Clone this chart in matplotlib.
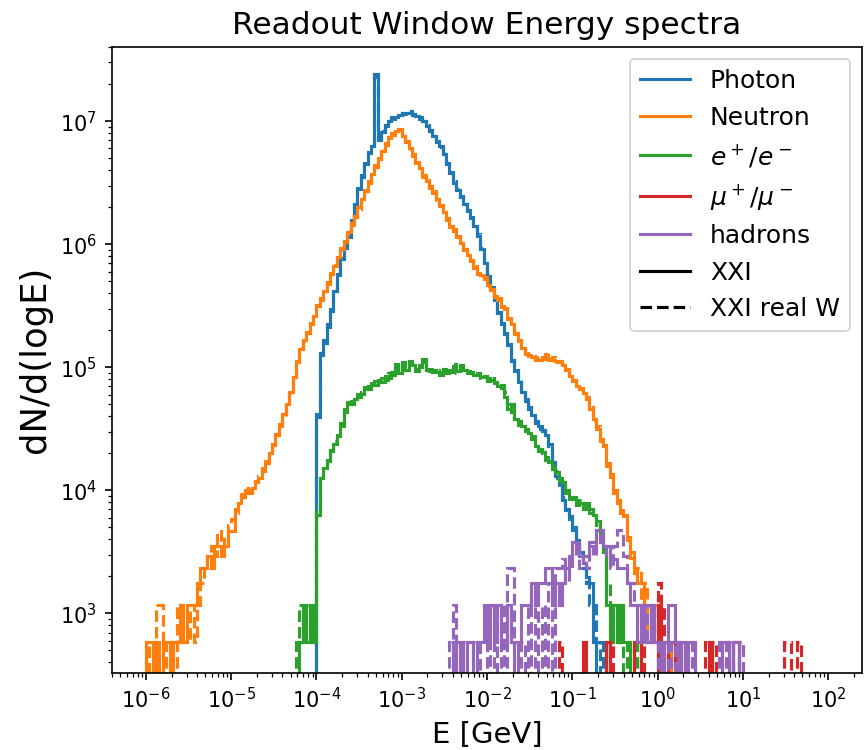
import numpy as np
import matplotlib
matplotlib.use("Agg")
import matplotlib.pyplot as plt
from matplotlib.lines import Line2D

# ---- binning: log10(E/GeV) from -6 to 2, 200 bins -------------------------
LOGE_MIN, LOGE_MAX, N_BINS = -6.0, 2.0, 200

# ---- data: log10(dN/dlogE) per consecutive bin, starting at a log10(E) edge --
# (0 means an empty bin)
photon_start = -4.0
photon_xxi = [4.62, 5.10, 5.22, 5.33, 5.47, 5.62, 5.76, 5.88, 5.97, 6.07,
              6.19, 6.33, 6.45, 6.55, 6.66, 6.74, 6.80, 7.38, 6.86, 6.91,
              6.96, 7.00, 7.02, 7.03, 7.05, 7.06, 7.07, 7.07, 7.06, 7.04,
              7.03, 7.00, 6.96, 6.92, 6.88, 6.84, 6.80, 6.73, 6.66, 6.58,
              6.50, 6.44, 6.39, 6.33, 6.28, 6.21, 6.15, 6.07, 5.96, 5.85,
              5.74, 5.65, 5.55, 5.44, 5.36, 5.28, 5.18, 5.05, 4.98, 4.88,
              4.80, 4.74, 4.68, 4.61, 4.56, 4.52, 4.48, 4.45, 4.38, 4.23,
              4.12, 4.05, 3.92, 3.84, 3.79, 3.70, 3.58, 3.50, 3.41, 3.30,
              3.25, 2.77, 0, 0, 0, 2.77]
photon_realw = [4.60, 5.12, 5.20, 5.35, 5.46, 5.63, 5.75, 5.89, 5.98, 6.06,
                6.20, 6.32, 6.46, 6.56, 6.65, 6.75, 6.81, 7.36, 6.85, 6.92,
                6.97, 7.00, 7.03, 7.04, 7.05, 7.07, 7.06, 7.08, 7.05, 7.04,
                7.02, 7.00, 6.97, 6.93, 6.88, 6.83, 6.79, 6.74, 6.65, 6.59,
                6.51, 6.45, 6.38, 6.34, 6.27, 6.22, 6.14, 6.08, 5.97, 5.84,
                5.75, 5.64, 5.56, 5.45, 5.35, 5.27, 5.19, 5.06, 4.97, 4.90,
                4.81, 4.73, 4.66, 4.62, 4.55, 4.50, 4.49, 4.43, 4.36, 4.25,
                4.10, 4.02, 3.95, 3.85, 3.77, 3.68, 3.60, 3.47, 3.37, 3.25,
                3.07, 3.07, 2.77, 0, 2.77, 0]

neutron_start = -6.0
neutron_xxi = [2.77, 2.77, 0, 2.77, 0, 2.77, 2.77, 0, 2.77, 2.77,
               3.07, 2.77, 3.07, 3.07, 3.07, 3.25, 3.37, 3.37, 3.47, 3.37,
               3.55, 3.55, 3.47, 3.55, 3.67, 3.67, 3.85, 3.90, 3.95, 4.00,
               3.98, 4.02, 4.08, 4.10, 4.18, 4.22, 4.30, 4.38, 4.45, 4.52,
               4.62, 4.70, 4.80, 4.92, 5.05, 5.15, 5.22, 5.28, 5.35, 5.42,
               5.50, 5.56, 5.62, 5.69, 5.76, 5.82, 5.90, 5.96, 6.02, 6.10,
               6.17, 6.22, 6.30, 6.37, 6.44, 6.50, 6.57, 6.63, 6.70, 6.76,
               6.82, 6.86, 6.89, 6.92, 6.93, 6.88, 6.83, 6.78, 6.72, 6.67,
               6.62, 6.56, 6.51, 6.47, 6.42, 6.37, 6.31, 6.26, 6.20, 6.15,
               6.11, 6.07, 6.01, 5.96, 5.91, 5.87, 5.81, 5.77, 5.75, 5.72,
               5.67, 5.63, 5.58, 5.55, 5.50, 5.47, 5.40, 5.35, 5.28, 5.22,
               5.16, 5.12, 5.10, 5.08, 5.07, 5.06, 5.08, 5.10, 5.07, 5.06,
               5.05, 5.04, 5.02, 4.98, 4.93, 4.89, 4.85, 4.82, 4.79, 4.76,
               4.66, 4.58, 4.50, 4.42, 4.36, 4.22, 4.11, 4.00, 3.90, 3.84,
               3.79, 3.60, 3.45, 3.37, 3.25, 3.25, 3.07, 3.07, 2.77, 3.07,
               2.77, 0, 2.77, 2.77, 0, 2.77, 0, 2.77]
neutron_realw = [2.77, 0, 2.77, 3.07, 3.07, 0, 2.77, 2.77, 0, 3.07,
                 3.07, 2.77, 2.77, 3.07, 2.77, 3.07, 3.25, 3.37, 3.47, 3.55,
                 3.47, 3.67, 3.55, 3.62, 3.72, 3.77, 3.82, 3.93, 3.97, 4.02,
                 4.00, 4.05, 4.07, 4.12, 4.16, 4.24, 4.31, 4.37, 4.46, 4.54,
                 4.60, 4.72, 4.79, 4.93, 5.04, 5.16, 5.21, 5.29, 5.36, 5.41,
                 5.51, 5.55, 5.63, 5.68, 5.77, 5.83, 5.89, 5.97, 6.03, 6.09,
                 6.16, 6.23, 6.29, 6.38, 6.43, 6.51, 6.56, 6.64, 6.69, 6.77,
                 6.81, 6.87, 6.90, 6.91, 6.94, 6.87, 6.84, 6.77, 6.73, 6.66,
                 6.63, 6.55, 6.52, 6.46, 6.43, 6.36, 6.32, 6.25, 6.21, 6.14,
                 6.12, 6.06, 6.02, 5.95, 5.92, 5.86, 5.82, 5.76, 5.74, 5.73,
                 5.66, 5.64, 5.57, 5.56, 5.49, 5.48, 5.39, 5.36, 5.27, 5.21,
                 5.15, 5.11, 5.09, 5.09, 5.06, 5.08, 5.07, 5.11, 5.06, 5.08,
                 5.04, 5.05, 5.01, 4.99, 4.92, 4.90, 4.84, 4.83, 4.77, 4.74,
                 4.68, 4.56, 4.52, 4.40, 4.37, 4.20, 4.13, 3.98, 3.92, 3.82,
                 3.80, 3.62, 3.50, 3.30, 3.37, 3.07, 3.25, 2.77, 3.07, 2.77,
                 3.07, 2.77, 0, 2.77, 2.77, 0, 2.77, 2.77]

electron_xxi_start = -4.2
electron_xxi = [2.77, 3.07, 2.77, 3.07, 2.77,
                3.80, 4.10, 4.18, 4.25, 4.32, 4.38, 4.45, 4.52, 4.66, 4.72,
                4.70, 4.74, 4.76, 4.78, 4.84, 4.82, 4.87, 4.86, 4.90, 4.88,
                4.93, 4.91, 4.96, 5.00, 4.95, 5.04, 4.98, 5.03, 5.02, 4.97,
                5.00, 5.07, 4.98, 4.97, 4.98, 4.96, 4.96, 4.99, 4.95, 4.98,
                5.01, 4.97, 5.02, 4.98, 4.97, 4.95, 4.94, 4.94, 4.92, 4.92,
                4.91, 4.90, 4.88, 4.85, 4.86, 4.76, 4.66, 4.70, 4.58, 4.56,
                4.52, 4.50, 4.47, 4.42, 4.36, 4.34, 4.31, 4.27, 4.23, 4.19,
                4.15, 4.10, 4.07, 3.98, 3.95, 3.93, 3.90, 3.90, 3.88, 3.90,
                3.85, 3.80, 3.75, 3.68, 3.50, 3.07, 2.77, 3.07, 2.77, 3.07,
                2.77, 2.77, 0, 2.77, 2.77]
electron_realw_start = -4.24
electron_realw = [2.77, 3.07, 2.77, 3.07, 2.77, 3.07,
                  3.85, 4.08, 4.20, 4.24, 4.33, 4.40, 4.44, 4.55, 4.64, 4.70,
                  4.73, 4.72, 4.78, 4.80, 4.82, 4.85, 4.84, 4.89, 4.87, 4.91,
                  4.90, 4.95, 4.94, 5.03, 4.97, 5.01, 5.00, 5.05, 4.99, 4.99,
                  5.02, 5.04, 4.96, 4.99, 4.96, 4.98, 4.94, 4.97, 4.97, 4.96,
                  5.03, 4.95, 5.00, 4.99, 4.95, 4.96, 4.93, 4.95, 4.91, 4.93,
                  4.89, 4.91, 4.87, 4.86, 4.83, 4.80, 4.70, 4.64, 4.60, 4.53,
                  4.54, 4.48, 4.45, 4.44, 4.38, 4.32, 4.30, 4.25, 4.24, 4.17,
                  4.16, 4.08, 4.05, 4.00, 3.93, 3.95, 3.88, 3.92, 3.85, 3.88,
                  3.82, 3.78, 3.72, 3.62, 3.55, 3.25, 3.07, 2.77, 3.07, 2.77,
                  0, 2.77, 2.77, 0, 2.77]

hadron_start = -2.48
hadron_xxi = [0, 0, 2.77, 0, 2.77, 0, 2.77, 2.77, 0, 2.77,
              2.77, 3.07, 2.77, 3.07, 2.77, 3.07, 2.77, 2.77, 3.07, 2.77,
              0, 2.77, 3.07, 3.07, 3.07, 3.25, 3.07, 3.25, 3.25, 3.37,
              3.37, 3.07, 3.25, 3.07, 3.25, 3.37, 3.47, 3.58, 3.58, 3.47,
              3.47, 3.47, 3.58, 3.58, 3.68, 3.68, 3.55, 3.55, 3.44, 3.44,
              3.37, 3.37, 3.37, 3.25, 3.07, 3.07, 2.77, 3.07, 2.77, 2.77,
              3.07, 2.77, 2.77, 0, 2.77, 3.07, 3.07, 2.77, 0, 2.77,
              0, 2.77, 2.77, 0, 0, 0, 0, 0, 0, 0,
              0, 2.77, 2.77, 0, 2.77, 2.77]
hadron_realw = [0, 2.77, 3.07, 2.77, 0, 2.77, 0, 0, 2.77, 2.77,
                0, 0, 3.07, 0, 2.77, 0, 3.07, 0, 3.37, 3.37,
                2.77, 0, 2.77, 0, 3.07, 0, 3.25, 0, 3.07, 0,
                3.25, 0, 3.37, 3.37, 3.44, 3.25, 3.37, 3.47, 3.58, 3.37,
                3.47, 3.37, 3.55, 3.47, 3.68, 3.58, 3.55, 3.47, 3.37, 3.55,
                3.68, 3.68, 3.47, 3.25, 3.25, 3.07, 3.07, 2.77, 2.77, 3.07,
                2.77, 2.77, 0, 2.77, 2.77, 0, 2.77, 0, 2.77, 0,
                0, 0, 2.77, 0, 0, 0, 0, 0, 0, 0,
                2.77, 0, 2.77, 2.77, 0, 0, 2.77]

# sparse muon bins: log10(E) of bin centres and log10(dN/dlogE)
muon_xxi_logE = [-0.86, -0.58, -0.26, -0.22, 0.02, 0.14, 0.18, 0.62, 0.90, 0.94]
muon_xxi = [2.77, 2.77, 2.77, 2.77, 3.07, 2.77, 2.77, 2.77, 2.77, 2.77]
muon_realw_logE = [-1.14, -0.54, -0.18, 0.02, 0.06, 0.10, 0.22, 0.58, 0.66,
                   0.86, 0.98, 1.50, 1.54, 1.66]
muon_realw = [2.77, 2.77, 2.77, 3.25, 3.07, 2.77, 2.77, 2.77, 2.77,
              2.77, 2.77, 2.77, 2.77, 2.77]

labels = ["Photon", "Neutron", r"$e^+/e^-$", r"$\mu^+/\mu^-$", "hadrons"]
colors = ["#1f77b4", "#ff7f0e", "#2ca02c", "#d62728", "#9467bd"]
x_decades = [-6, -5, -4, -3, -2, -1, 0, 1, 2]
y_decades = [3, 4, 5, 6, 7]

# ---------------------------------------------------------------------------
edges = np.logspace(LOGE_MIN, LOGE_MAX, N_BINS + 1)
bw = (LOGE_MAX - LOGE_MIN) / N_BINS


def dense(start, logv):
    logv = np.asarray(logv, float)
    centres = 10 ** (start + bw * (np.arange(len(logv)) + 0.5))
    m = logv > 0
    return centres[m], 10 ** logv[m]


def sparse(logE, logv):
    return 10 ** np.asarray(logE, float), 10 ** np.asarray(logv, float)


series = [
    (dense(photon_start, photon_xxi), dense(photon_start, photon_realw)),
    (dense(neutron_start, neutron_xxi), dense(neutron_start, neutron_realw)),
    (dense(electron_xxi_start, electron_xxi),
     dense(electron_realw_start, electron_realw)),
    (sparse(muon_xxi_logE, muon_xxi), sparse(muon_realw_logE, muon_realw)),
    (dense(hadron_start, hadron_xxi), dense(hadron_start, hadron_realw)),
]

fig = plt.figure(figsize=(5.76, 5.0), dpi=150)
ax = fig.add_axes([0.1293, 0.1033, 0.998 - 0.1293, 0.9377 - 0.1033])
ax.set_xscale("log")
ax.set_yscale("log")

for (solid, dashed), c in zip(series, colors):
    ax.hist(solid[0], bins=edges, weights=solid[1], histtype="step",
            color=c, lw=1.5, ls="-")
    ax.hist(dashed[0], bins=edges, weights=dashed[1], histtype="step",
            color=c, lw=1.5, ls="--")

ax.set_xlim(10 ** -6.4, 10 ** 2.4)
ax.set_ylim(10 ** 2.52, 10 ** 7.605)
ax.set_xticks(10.0 ** np.array(x_decades))
ax.set_yticks(10.0 ** np.array(y_decades))

ax.set_title("Readout Window Energy spectra", fontsize=15)
ax.set_xlabel("E [GeV]", fontsize=14)
ax.set_ylabel("dN/d(logE)", fontsize=17)

handles = [Line2D([], [], color=c, lw=1.5) for c in colors]
handles += [Line2D([], [], color="k", lw=1.5),
            Line2D([], [], color="k", lw=1.5, ls="--")]
ax.legend(handles, labels + ["XXI", "XXI real W"], loc="upper right",
          fontsize=12)

fig.savefig("out.png", dpi=150)
